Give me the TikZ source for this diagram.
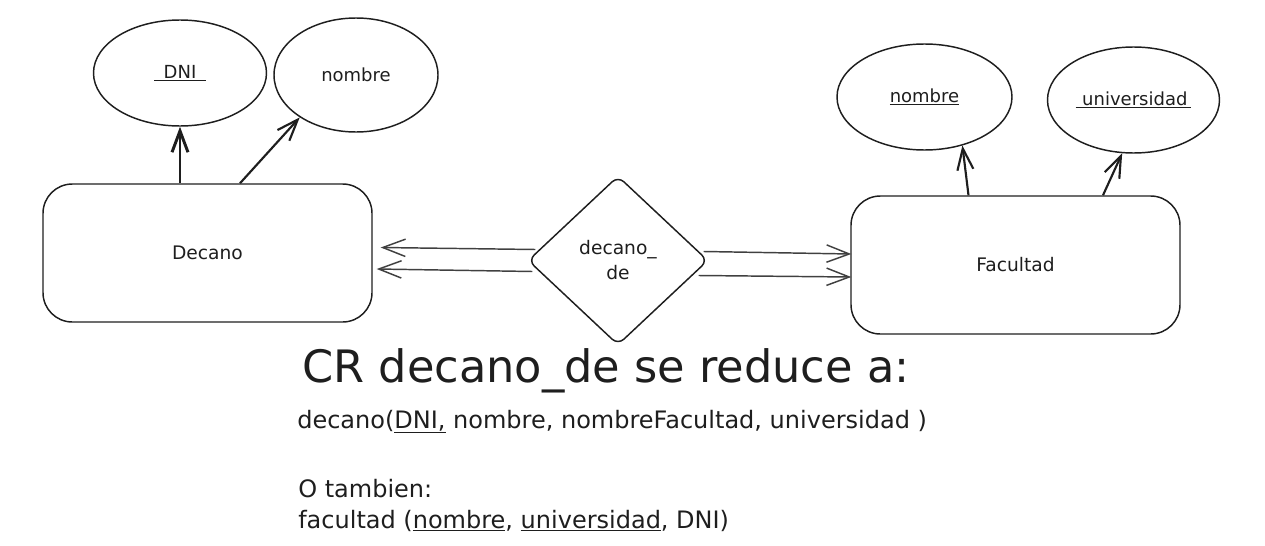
\documentclass[tikz,border=0pt]{standalone}
\usepackage{fontspec}
\setmainfont{DejaVu Sans}
\usetikzlibrary{shapes.geometric,arrows.meta,calc}
\definecolor{ink}{HTML}{1E1E1E}
\begin{document}
\begin{tikzpicture}[x=0.75pt,y=-0.75pt,
  every node/.style={text=ink},
  ent/.style={draw=ink,line width=1.1pt,rounded corners=22pt,minimum width=329*0.75pt,minimum height=138*0.75pt,inner sep=0pt,font=\fontsize{14}{17}\selectfont},
  attr/.style={draw=ink,line width=1.1pt,ellipse,inner sep=0pt,font=\fontsize{13.5}{16}\selectfont},
  relbox/.style={draw=ink,line width=1.1pt,diamond,rounded corners=6pt,minimum width=180*0.75pt,minimum height=169*0.75pt,inner sep=0pt,align=center,font=\fontsize{14}{18.75}\selectfont},
  attrarrow/.style={draw=ink,line width=1.6pt,-{Straight Barb[length=16pt,width=12pt]}},
  link/.style={draw=ink!85,line width=1.1pt,-{Straight Barb[length=17pt,width=13pt]}},
  txt/.style={anchor=base west,inner sep=0pt}
]
\useasboundingbox (0,0) rectangle (1265,546);

% entities
\node[ent] (decano) at (207.5,253) {Decano};
\node[ent] (fac) at (1015.5,265) {Facultad};

% relationship
\node[relbox] (rel) at (618,260.5) {decano\_\\de};

% attributes
\node[attr,minimum width=173*0.75pt,minimum height=106*0.75pt] (dni) at (180,73) {\underline{\hspace{7pt}DNI\hspace{7pt}}};
\node[attr,minimum width=164*0.75pt,minimum height=114*0.75pt] (nom1) at (356,75) {nombre};
\node[attr,minimum width=175*0.75pt,minimum height=106*0.75pt] (nom2) at (924.5,97) {\underline{nombre}};
\node[attr,minimum width=172*0.75pt,minimum height=106*0.75pt] (univ) at (1133.5,100) {\underline{\hspace{5pt}universidad\hspace{3pt}}};

% attribute arrows
\draw[attrarrow,line width=2.2pt] (decano.north -| dni.south) -- (dni.south);
\draw[attrarrow] ($(decano.north)+(32.5,0)$) -- (nom1.217);
\draw[attrarrow] ($(fac.north)+(-47,0)$) -- (nom2.308);
\draw[attrarrow] ($(fac.north)+(87.5,0)$) -- (univ.258);

% relationship connectors
\draw[link] ($(rel.west)+(8,-11)$) -- ($(decano.east)+(8,-5.5)$);
\draw[link] ($(rel.west)+(5,11)$) -- ($(decano.east)+(4,16)$);
\draw[link] ($(rel.east)+(-5,-9)$) -- ($(fac.west)+(1,-11)$);
\draw[link] ($(rel.east)+(-10,15)$) -- ($(fac.west)+(1,12)$);

% text
\node[txt,font=\fontsize{33.5}{40}\selectfont] (title) at (302,382) {CR decano\_de se reduce a:};
\node[txt,font=\fontsize{18}{22}\selectfont] (l1) at (297,428) {decano(\underline{DNI,} nombre, nombreFacultad, universidad )};
\node[txt,font=\fontsize{18}{22}\selectfont] (l2) at (298,497) {O tambien:};
\node[txt,font=\fontsize{18}{22}\selectfont] (l3) at (298,528) {facultad (\underline{nombre}, \underline{universidad}, DNI)};
\end{tikzpicture}
\end{document}
